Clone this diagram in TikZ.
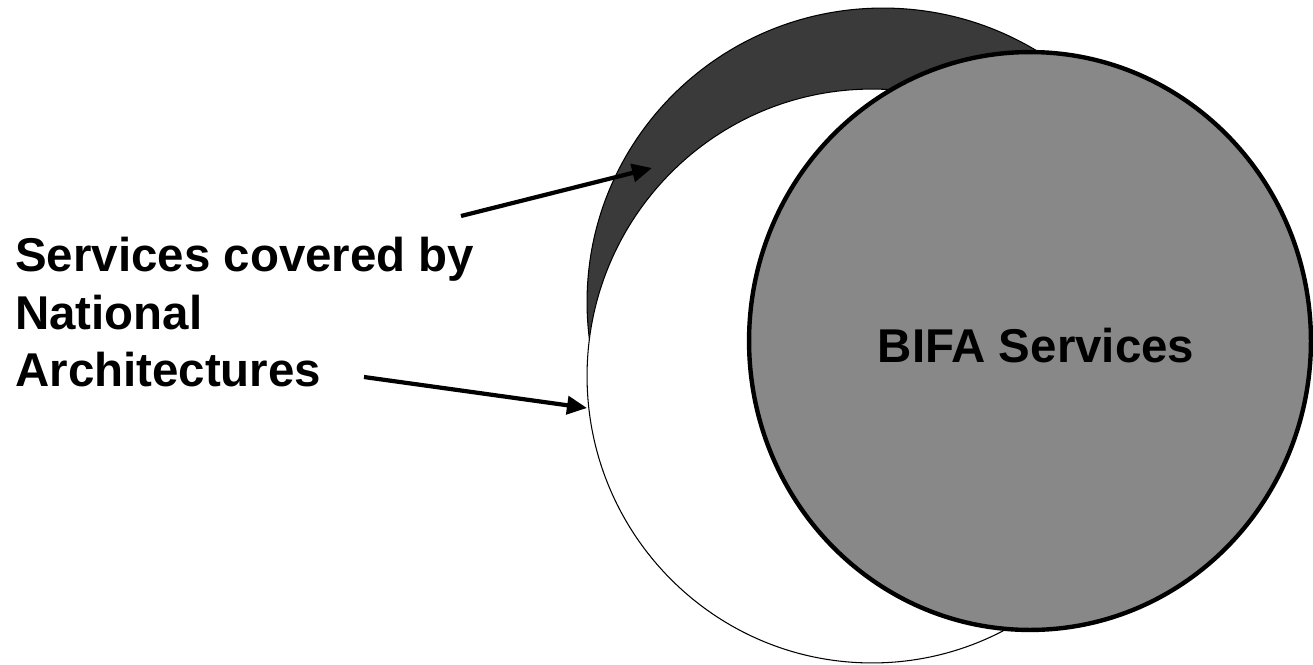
\documentclass[tikz,border=0pt]{standalone}
\usepackage{fontspec}
\setmainfont{Liberation Sans}
\usetikzlibrary{shapes.geometric}
\usetikzlibrary{positioning}
\usetikzlibrary{arrows.meta}
\usepackage{xcolor}
\definecolor{ringdark}{RGB}{58,58,58}
\definecolor{bifagray}{RGB}{136,136,136}

\begin{document}
\begin{tikzpicture}[x=0.02cm, y=-0.02cm,
    area/.style={draw, ellipse, inner sep=0pt},
    pointer/.style={-{Triangle[length=0.4cm,width=0.36cm]}, line width=2.4pt},
    bigtext/.style={font=\fontsize{27}{32.7}\selectfont\bfseries}]
            \useasboundingbox (0,0) rectangle (1313,664);

            \node[area, fill=ringdark, line width=0.6pt, minimum width=11.84cm, minimum height=11.76cm] (national) at (883,302) {};
            \node[area, fill=white, line width=0.6pt, minimum width=11.4cm, minimum height=11.48cm] (covered) at (872,376) {};
            \node[area, fill=bifagray, line width=2.5pt, minimum width=11.24cm, minimum height=11.56cm, bigtext, text height=0.85cm, text depth=0cm] (bifa) at (1030,341) {\hspace*{0.24cm}BIFA Services};

            \node[anchor=north west, inner sep=0pt, align=left, bigtext] (label) at (15,237) {Services covered by\\National\\Architectures};

            \coordinate (upper start) at (461,216);
            \coordinate (upper end) at (652,168);
            \coordinate (lower start) at (364,377);
            \coordinate (lower end) at (587,408);

            \draw[pointer] (upper start) -- (upper end);
            \draw[pointer] (lower start) -- (lower end);
        \end{tikzpicture}
\end{document}
